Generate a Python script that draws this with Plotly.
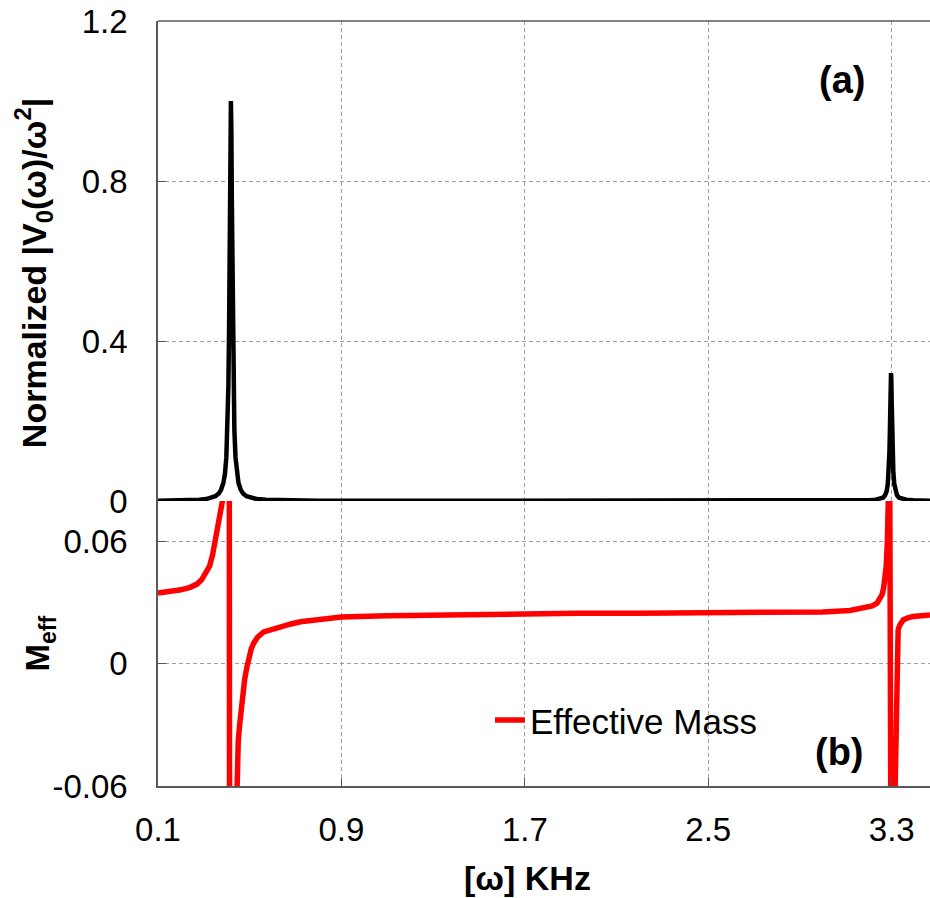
import plotly.graph_objects as go
from plotly.subplots import make_subplots

# ---- data ----
freq_v = [0.1, 0.15, 0.2, 0.25, 0.28, 0.31, 0.33, 0.35, 0.365, 0.375, 0.385, 0.392,
          0.398, 0.403, 0.407, 0.41, 0.412, 0.414, 0.416, 0.417, 0.418, 0.419, 0.42,
          0.422, 0.424, 0.426, 0.429, 0.433, 0.438, 0.444, 0.451, 0.461, 0.471, 0.486,
          0.506, 0.53, 0.57, 0.62, 0.7, 0.8, 1.0, 1.5, 2.0, 2.5, 2.9,
          3.0, 3.1, 3.15, 3.2, 3.23, 3.25, 3.262, 3.271, 3.278, 3.283, 3.287, 3.29,
          3.292, 3.294, 3.296, 3.297, 3.298, 3.3, 3.302, 3.304, 3.307, 3.311, 3.316,
          3.323, 3.332, 3.344, 3.364, 3.394, 3.43, 3.467]
v_norm = [0.001, 0.0012, 0.0015, 0.0025, 0.0035, 0.005, 0.0075, 0.012, 0.019, 0.028, 0.045, 0.068,
          0.109, 0.179, 0.288, 0.434, 0.577, 0.754, 0.925, 0.98, 1.0, 0.98, 0.925,
          0.754, 0.577, 0.434, 0.288, 0.179, 0.109, 0.068, 0.045, 0.028, 0.019, 0.012,
          0.0075, 0.005, 0.003, 0.002, 0.0012, 0.0008, 0.0005, 0.0003, 0.0003, 0.0003, 0.0005,
          0.0006, 0.001, 0.0015, 0.0022, 0.0035, 0.0055, 0.0085, 0.0145, 0.025, 0.043, 0.075, 0.122,
          0.175, 0.245, 0.31, 0.32, 0.31, 0.245, 0.175, 0.122, 0.075, 0.043, 0.025,
          0.0145, 0.0085, 0.0055, 0.0035, 0.0022, 0.0015, 0.001]

freq_m = [0.1, 0.15, 0.2, 0.24, 0.27, 0.29, 0.31, 0.325, 0.338, 0.35, 0.36, 0.37, 0.381,
          0.39, 0.4, 0.41, 0.413, 0.425, 0.438, 0.445, 0.45, 0.456, 0.463, 0.47, 0.478,
          0.487, 0.496, 0.507, 0.518, 0.535, 0.561, 0.595, 0.634, 0.68, 0.721, 0.8, 0.9,
          1.1, 1.375, 1.65, 1.93, 2.2, 2.5, 2.75, 2.9, 3.0, 3.118, 3.19, 3.215, 3.236,
          3.25, 3.258, 3.265, 3.27, 3.276, 3.281, 3.285, 3.29, 3.298, 3.305, 3.315,
          3.319, 3.322, 3.325, 3.328, 3.335, 3.35, 3.37, 3.393, 3.43, 3.467]
m_eff = [0.0348, 0.0355, 0.0364, 0.0376, 0.0392, 0.0413, 0.0445, 0.048, 0.0535, 0.0605, 0.067, 0.0745, 0.08,
         0.11, 0.16, 0.25, -0.25, -0.15, -0.08, -0.049, -0.038, -0.03, -0.021, -0.014, -0.0075,
         -0.002, 0.0034, 0.0075, 0.0103, 0.0132, 0.0157, 0.017, 0.0183, 0.0196, 0.0207, 0.0218, 0.023,
         0.0236, 0.0241, 0.0245, 0.0249, 0.0249, 0.0249, 0.025, 0.0252, 0.0255, 0.0262, 0.0274, 0.0285, 0.0298,
         0.032, 0.034, 0.0375, 0.041, 0.048, 0.06, 0.08, 0.15, -0.15, -0.12, -0.05,
         -0.01, 0.0118, 0.0145, 0.0167, 0.019, 0.0216, 0.0226, 0.0233, 0.0237, 0.024]

x_ticks = [0.1, 0.9, 1.7, 2.5, 3.3]
top_ticks = [0, 0.4, 0.8, 1.2]
bot_ticks = [-0.06, 0, 0.06]

FONT = "Arial, Liberation Sans, sans-serif"
GRID = "#A0A0A0"
AXIS = "#595959"
TICKSIZE = 33

fig = make_subplots(rows=2, cols=1, shared_xaxes=True, vertical_spacing=0,
                    row_heights=[0.6275, 0.3725])

fig.add_trace(go.Scatter(x=freq_v, y=v_norm, mode="lines", showlegend=False,
                         line=dict(color="black", width=4.5)), row=1, col=1)
fig.add_trace(go.Scatter(x=freq_m, y=m_eff, mode="lines", name="Effective Mass",
                         line=dict(color="#FF0000", width=5.5)), row=2, col=1)

fig.update_xaxes(range=[0.1, 3.467], tickvals=x_ticks, showgrid=True, gridcolor=GRID,
                 griddash="4px,3px", gridwidth=1, zeroline=False, automargin=False,
                 ticklabeloverflow="allow")
fig.update_xaxes(row=1, col=1, showticklabels=False, showline=False, ticks="")
fig.update_xaxes(row=2, col=1, showline=True, linecolor=AXIS, linewidth=1.5,
                 ticks="inside", ticklen=8, tickcolor=AXIS, tickwidth=1.2,
                 tickfont=dict(family=FONT, size=TICKSIZE, color="black"),
                 ticklabelstandoff=14)

fig.update_yaxes(row=1, col=1, range=[0, 1.2], tickvals=top_ticks,
                 ticktext=["0", "0.4", "0.8", "1.2"],
                 showgrid=True, gridcolor=GRID, griddash="4px,3px", zeroline=False,
                 showline=True, linecolor=AXIS, linewidth=1.5, automargin=False,
                 ticks="inside", ticklen=8, tickcolor=AXIS, ticklabeloverflow="allow",
                 tickfont=dict(family=FONT, size=TICKSIZE, color="black"),
                 ticklabelstandoff=22)
fig.update_yaxes(row=2, col=1, range=[-0.06, 0.08], tickvals=bot_ticks,
                 ticktext=["-0.06", "0", "0.06"],
                 showgrid=True, gridcolor=GRID, griddash="4px,3px", zeroline=False,
                 showline=True, linecolor=AXIS, linewidth=1.5, automargin=False,
                 ticks="inside", ticklen=8, tickcolor=AXIS, ticklabeloverflow="allow",
                 tickfont=dict(family=FONT, size=TICKSIZE, color="black"),
                 ticklabelstandoff=22)

# top border of the upper panel
fig.add_shape(type="line", xref="paper", yref="paper", x0=0, x1=1, y0=1, y1=1,
              line=dict(color=AXIS, width=1.5))

annos = [
    dict(text="<b>Normalized |V<sub>0</sub>(ω)/ω<sup>2</sup>|</b>", x=-0.161, y=0.67,
         textangle=-90, size=34),
    dict(text="<b>M<sub>eff</sub></b>", x=-0.153, y=0.186, textangle=-90, size=33),
    dict(text="<b>[ω] KHz</b>", x=0.478, y=-0.12, size=34),
    dict(text="<b>(a)</b>", x=0.886, y=0.923, size=38),
    dict(text="<b>(b)</b>", x=0.883, y=0.044, size=38),
]
for a in annos:
    size = a.pop("size")
    fig.add_annotation(xref="paper", yref="paper", showarrow=False,
                       xanchor="center", yanchor="middle",
                       font=dict(family=FONT, color="black", size=size), **a)

fig.update_layout(
    width=930, height=898,
    margin=dict(l=157.5, r=0, t=21, b=112),
    plot_bgcolor="white", paper_bgcolor="white",
    font=dict(family=FONT, color="black"),
    legend=dict(x=0.43, y=0.086, xanchor="left", yanchor="middle",
                bgcolor="rgba(0,0,0,0)", font=dict(family=FONT, size=35, color="black")),
)

# remove the page's default body margin and scrollbars so the figure fills the window
fig.write_html("out.html",
               config={"displayModeBar": False},
               post_script="document.body.style.margin='0';"
                           "document.documentElement.style.overflow='hidden';"
                           "document.body.style.overflow='hidden';")
